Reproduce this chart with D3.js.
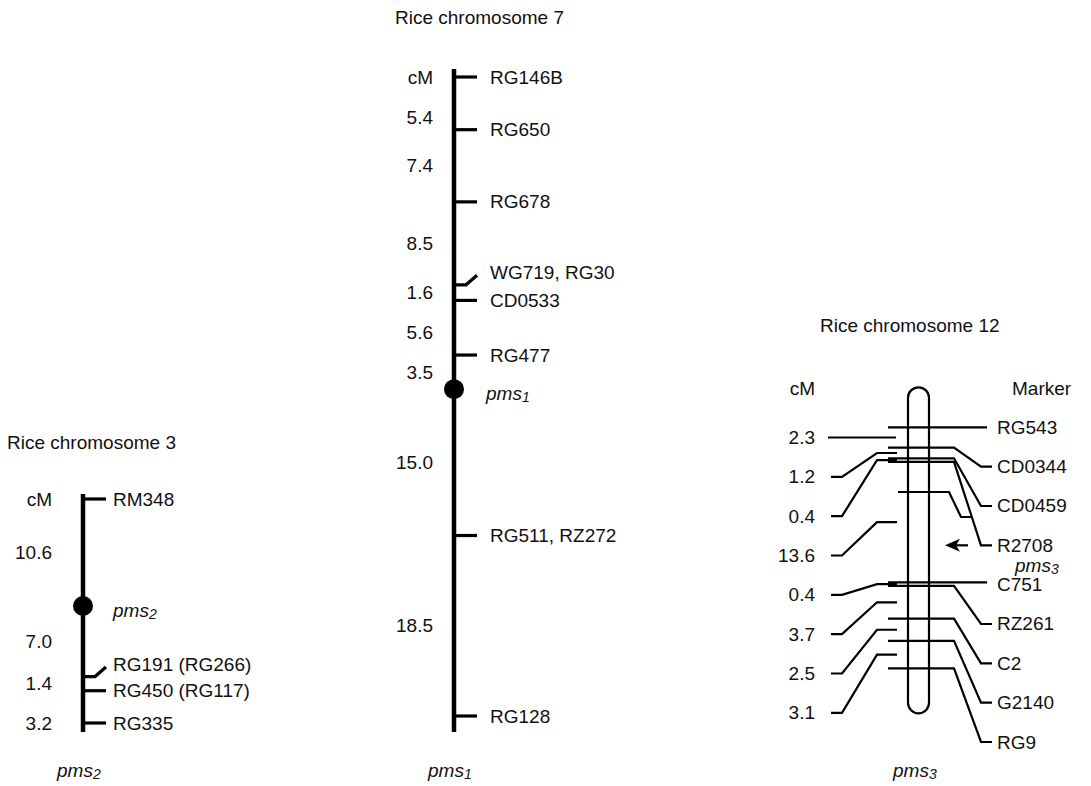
<!DOCTYPE html>
<html>
<head>
<meta charset="utf-8">
<script src="https://cdn.jsdelivr.net/npm/d3@7"></script>
<style>
  html, body { margin: 0; padding: 0; background: #fff; }
  svg text { font-family: "Liberation Sans", Arial, sans-serif; font-size: 19px; fill: #111; }
</style>
</head>
<body>
<svg id="maps" width="1091" height="786"></svg>
<script>
// ---- Map data (marker order top to bottom, intervals in cM) ----
const chr3Markers   = ["RM348", "pms2", "RG191 (RG266)", "RG450 (RG117)", "RG335"];
const chr3Intervals = [10.6, 7.0, 1.4, 3.2];

const chr7Markers   = ["RG146B", "RG650", "RG678", "WG719, RG30", "CD0533", "RG477", "pms1", "RG511, RZ272", "RG128"];
const chr7Intervals = [5.4, 7.4, 8.5, 1.6, 5.6, 3.5, 15.0, 18.5];

const chr12Markers   = ["RG543", "CD0344", "CD0459", "R2708", "C751", "RZ261", "C2", "G2140", "RG9"];
const chr12Intervals = [2.3, 1.2, 0.4, 13.6, 0.4, 3.7, 2.5, 3.1];
const chr12LocusCM   = 7.3;      // pms3 position, cM below RG543
const chr12LocusName = "pms3";

const svg = d3.select("#maps");
const fmt = d3.format(".1f");
const ink = "#000";

// italic locus name with a subscript number, e.g. pms1
function locusText(sel, name, x, y, anchor) {
  const t = sel.append("text").attr("x", x).attr("y", y)
    .attr("dominant-baseline", "central").attr("text-anchor", anchor || "start")
    .style("font-style", "italic");
  const m = name.match(/^([a-z]+)(\d+)$/);
  t.append("tspan").text(m[1]);
  t.append("tspan").attr("dy", 4).style("font-size", "14px").text(m[2]);
  return t;
}

// spread interval labels so none sits closer than minGap to the one above
function spreadLabels(ys, start, minGap) {
  const out = [];
  let prev = start;
  ys.forEach(v => { const y = Math.max(v, prev + minGap); out.push(y); prev = y; });
  return out;
}

// ---- Linkage bar with ticks (chromosomes 3 and 7) ----
function drawBar(cfg) {
  const g = svg.append("g");
  const cum = Array.from(d3.cumsum([0, ...cfg.intervals]));
  const total = cum[cum.length - 1];
  const y = d3.scaleLinear().domain([0, total]).range(cfg.range);

  g.append("text").attr("x", cfg.titleX).attr("y", cfg.titleY)
    .attr("dominant-baseline", "central").text(cfg.title);

  g.append("line")
    .attr("x1", cfg.x).attr("x2", cfg.x)
    .attr("y1", y(0) - cfg.padTop).attr("y2", y(total) + cfg.padBottom)
    .attr("stroke", ink).attr("stroke-width", 4.5);

  const tickLen = 23;
  cfg.markers.forEach((name, i) => {
    const yy = y(cum[i]);
    if (name.startsWith("pms")) {
      g.append("circle").attr("cx", cfg.x).attr("cy", yy).attr("r", 10).attr("fill", ink);
      locusText(g, name, cfg.x + cfg.locusDx, yy + 4);
      return;
    }
    const bent = i < cfg.intervals.length && cfg.intervals[i] < 2;
    if (bent) {
      g.append("path")
        .attr("d", `M${cfg.x},${yy}H${cfg.x + 12}L${cfg.x + tickLen},${yy - 9.5}`)
        .attr("fill", "none").attr("stroke", ink).attr("stroke-width", 3.2);
    } else {
      g.append("line").attr("x1", cfg.x).attr("x2", cfg.x + tickLen)
        .attr("y1", yy).attr("y2", yy).attr("stroke", ink).attr("stroke-width", 3.2);
    }
    g.append("text").attr("x", cfg.x + cfg.labelDx).attr("y", bent ? yy - 12 : yy)
      .attr("dominant-baseline", "central").text(name);
  });

  // distance column
  const cmX = cfg.x - cfg.cmDx;
  g.append("text").attr("x", cmX).attr("y", y(0)).attr("text-anchor", "end")
    .attr("dominant-baseline", "central").text("cM");
  const mids = cfg.intervals.map((d, i) => (y(cum[i]) + y(cum[i + 1])) / 2);
  const ly = spreadLabels(mids, y(0), 40);
  cfg.intervals.forEach((d, i) => {
    g.append("text").attr("x", cmX).attr("y", ly[i]).attr("text-anchor", "end")
      .attr("dominant-baseline", "central").text(fmt(d));
  });

  locusText(g, cfg.locus, cfg.x - 26, 770);
}

drawBar({
  title: "Rice chromosome 3", titleX: 7, titleY: 442,
  markers: chr3Markers, intervals: chr3Intervals, locus: "pms2",
  x: 83, range: [499, 723], padTop: 5, padBottom: 9,
  labelDx: 30, locusDx: 30, cmDx: 31
});

drawBar({
  title: "Rice chromosome 7", titleX: 395, titleY: 17,
  markers: chr7Markers, intervals: chr7Intervals, locus: "pms1",
  x: 454, range: [77, 716], padTop: 8, padBottom: 16,
  labelDx: 36, locusDx: 32, cmDx: 21
});

// ---- Chromosome 12: outlined chromosome with fanned marker labels ----
(function () {
  const g = svg.append("g");
  const cum = Array.from(d3.cumsum([0, ...chr12Intervals]));
  const total = cum[cum.length - 1];
  const y = d3.scaleLinear().domain([0, total]).range([427.3, 668.3]);
  const cx = 918.5, half = 10.5;
  const n = chr12Markers.length;
  const step = (742 - y(0)) / (n - 1);
  const slot = i => y(0) + i * step;
  const lw = 2.2;

  g.append("text").attr("x", 820).attr("y", 325).attr("dominant-baseline", "central")
    .text("Rice chromosome 12");
  g.append("text").attr("x", 815).attr("y", 388).attr("text-anchor", "end")
    .attr("dominant-baseline", "central").text("cM");
  g.append("text").attr("x", 1012).attr("y", 388).attr("dominant-baseline", "central")
    .text("Marker");

  // chromosome body
  g.append("rect")
    .attr("x", cx - half).attr("y", y(0) - 40)
    .attr("width", half * 2).attr("height", (y(total) + 45) - (y(0) - 40))
    .attr("rx", half).attr("ry", half)
    .attr("fill", "none").attr("stroke", ink).attr("stroke-width", lw);

  // markers on the right
  chr12Markers.forEach((name, i) => {
    const ym = y(cum[i]), ys = slot(i);
    if (Math.abs(ys - ym) < 3) {
      g.append("line").attr("x1", 888).attr("x2", 987).attr("y1", ym).attr("y2", ym)
        .attr("stroke", ink).attr("stroke-width", lw);
    } else {
      g.append("path").attr("d", `M888,${ym}H954L981,${ys}H992`)
        .attr("fill", "none").attr("stroke", ink).attr("stroke-width", lw);
    }
    g.append("text").attr("x", 997).attr("y", ys).attr("dominant-baseline", "central").text(name);
  });

  // pms3 locus and arrow
  const yl = y(chr12LocusCM);
  g.append("path").attr("d", `M898,${yl}H949L961,${yl + 25}H972`)
    .attr("fill", "none").attr("stroke", ink).attr("stroke-width", lw);
  const rowR2708 = chr12Markers.indexOf("R2708");
  const ya = slot(rowR2708);
  g.append("line").attr("x1", 955).attr("x2", 968).attr("y1", ya).attr("y2", ya)
    .attr("stroke", ink).attr("stroke-width", lw);
  g.append("path").attr("d", `M945,${ya}L960,${ya - 6.5}L956,${ya}L960,${ya + 6.5}Z`).attr("fill", ink);
  locusText(g, chr12LocusName, 1015, (slot(rowR2708) + slot(rowR2708 + 1)) / 2);

  // intervals on the left
  const y0 = (y(cum[0]) + y(cum[1])) / 2;
  chr12Intervals.forEach((d, j) => {
    const yi = (y(cum[j]) + y(cum[j + 1])) / 2, ys = y0 + j * step;
    if (Math.abs(ys - yi) < 3) {
      g.append("line").attr("x1", 828).attr("x2", 896).attr("y1", yi).attr("y2", yi)
        .attr("stroke", ink).attr("stroke-width", lw);
    } else {
      g.append("path").attr("d", `M831,${ys}H842L877,${yi}H897`)
        .attr("fill", "none").attr("stroke", ink).attr("stroke-width", lw);
    }
    g.append("text").attr("x", 815).attr("y", ys).attr("text-anchor", "end")
      .attr("dominant-baseline", "central").text(fmt(d));
  });

  locusText(g, chr12LocusName, 893, 770);
})();
</script>
</body>
</html>
